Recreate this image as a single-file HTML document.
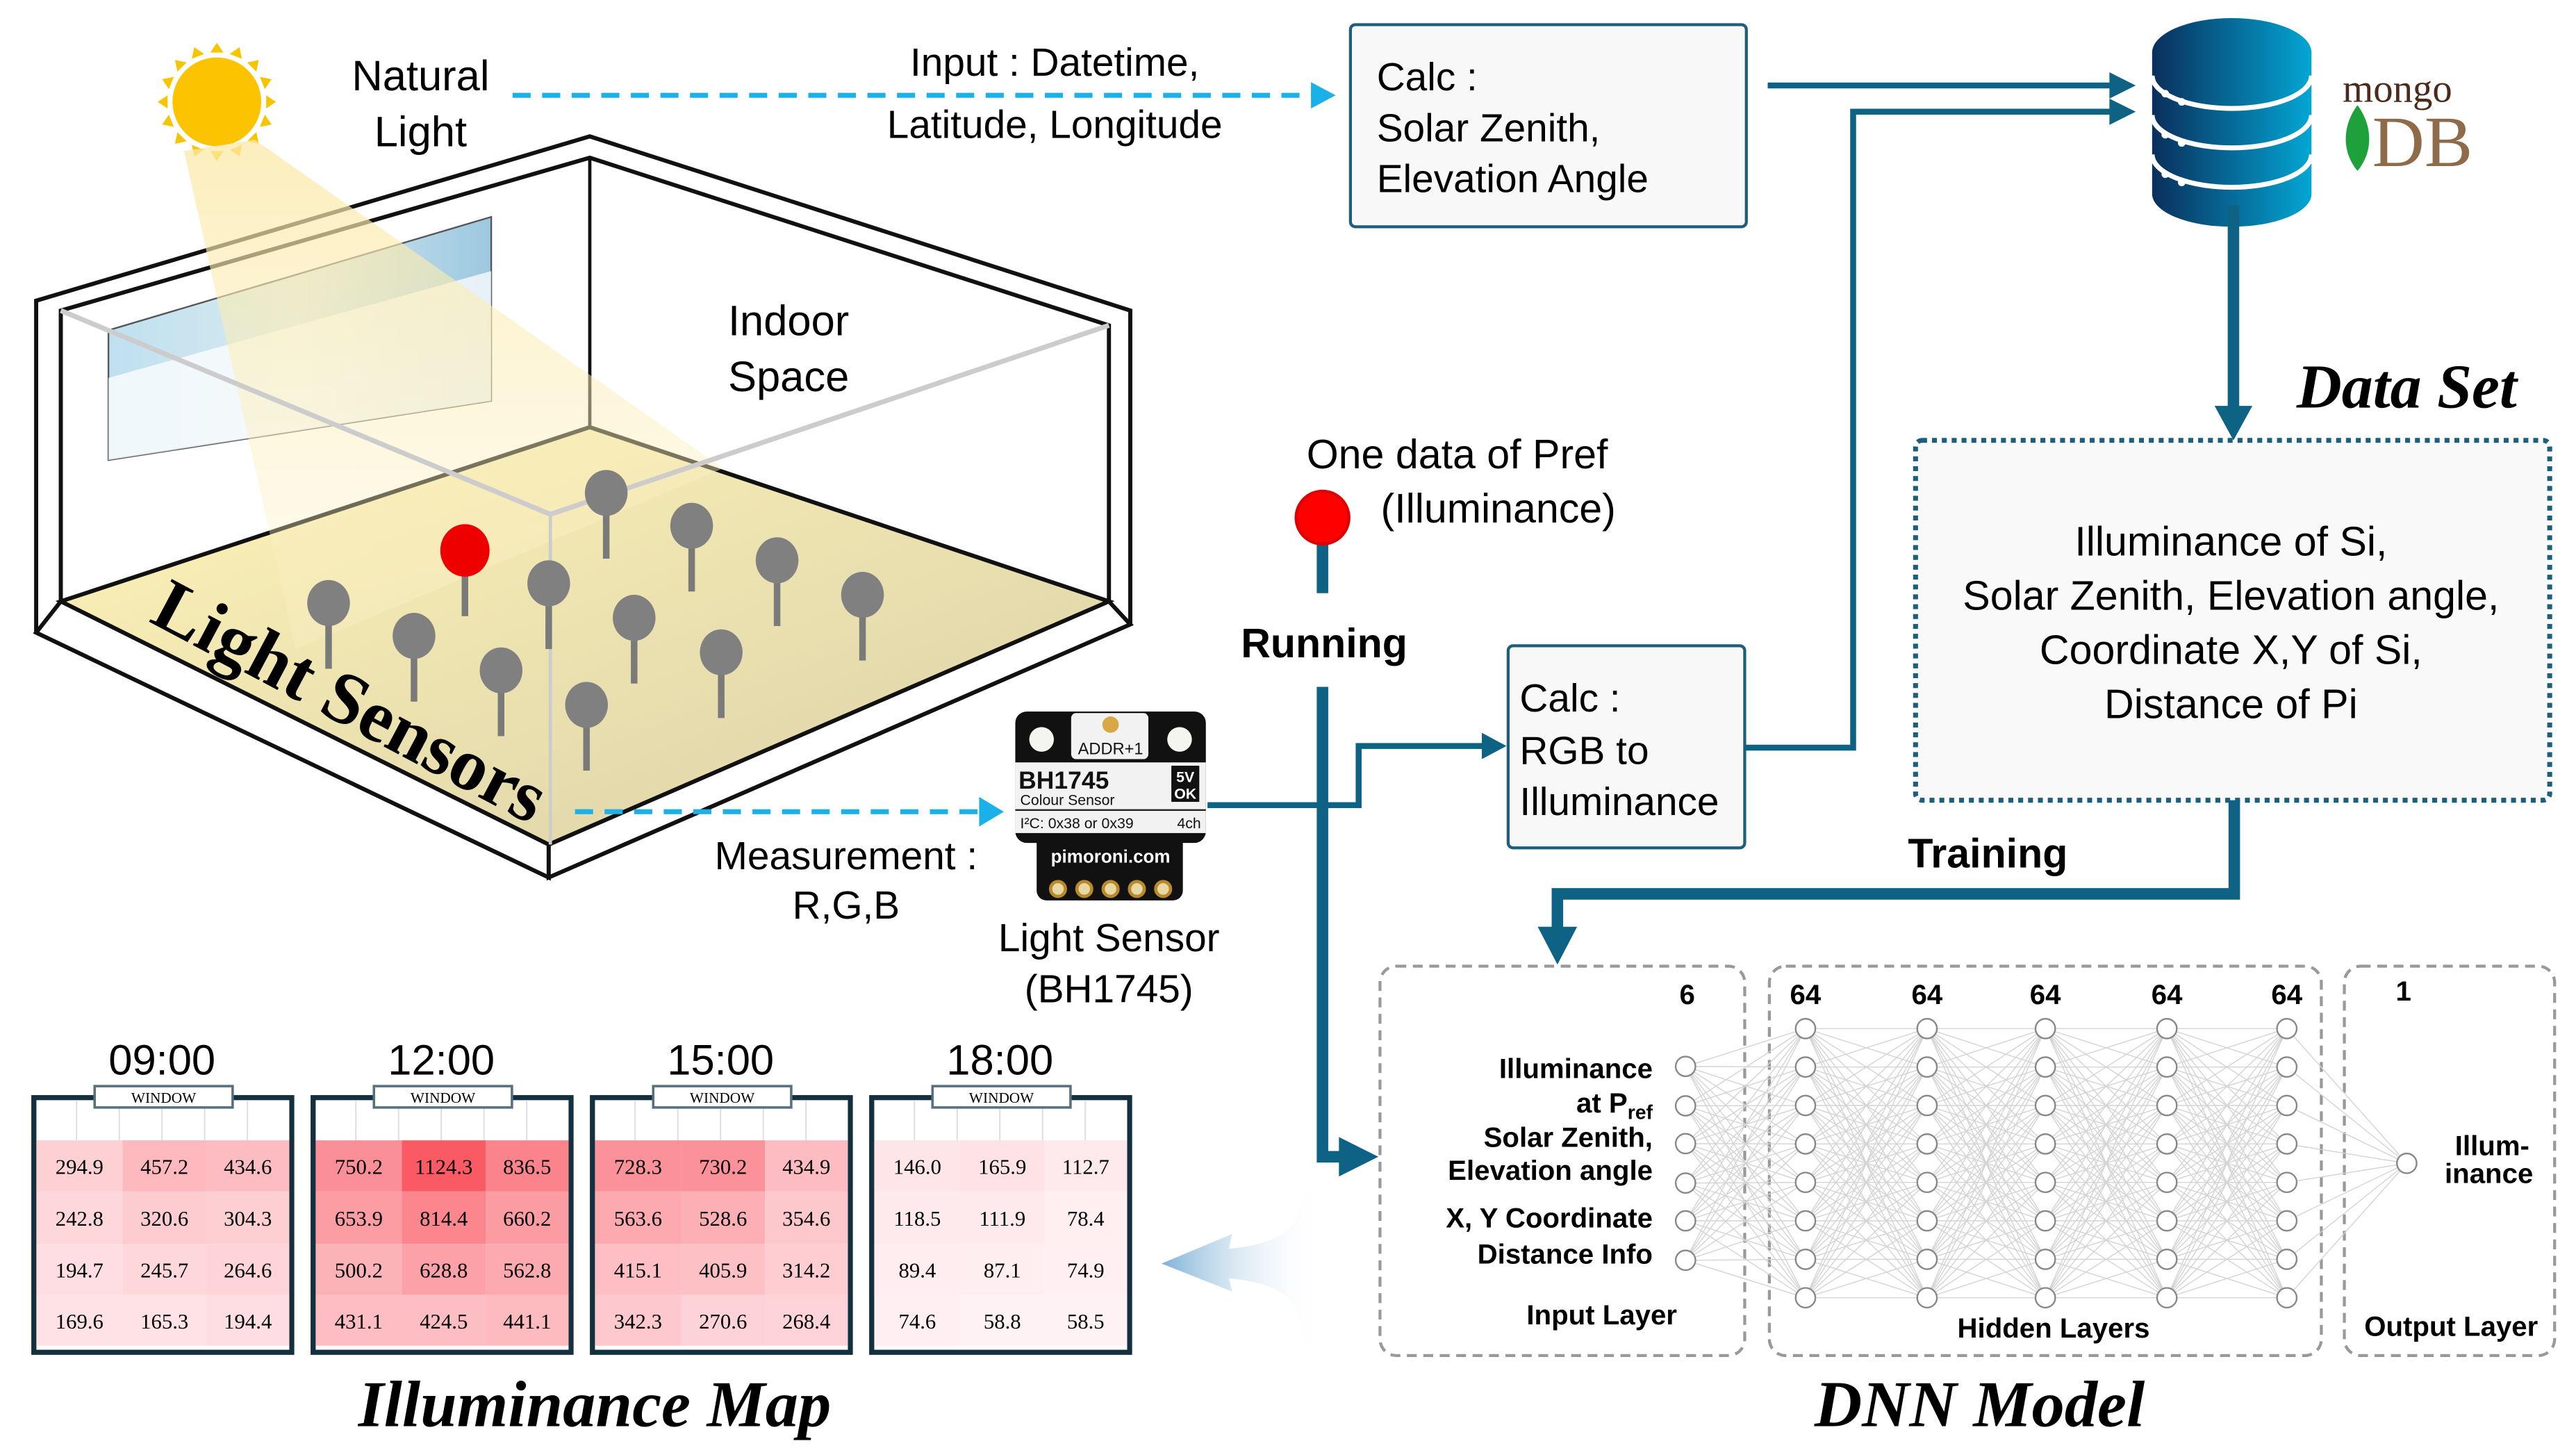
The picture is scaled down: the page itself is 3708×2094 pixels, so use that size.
<!DOCTYPE html>
<html><head><meta charset="utf-8"><style>
html,body{margin:0;padding:0;background:#fff;}
svg{display:block;}
text{font-family:"Liberation Sans","Noto Sans CJK KR",sans-serif;}
.s{font-family:"Liberation Serif","DejaVu Serif",serif;}
</style></head><body>
<svg id="sv" xmlns="http://www.w3.org/2000/svg" width="3708" height="2094" viewBox="0 0 1568 885.5">
<defs>
<linearGradient id="floor" x1="0" y1="0" x2="1" y2="1">
<stop offset="0" stop-color="#fff4b8"/><stop offset="1" stop-color="#d9d0a8"/></linearGradient>
<linearGradient id="beam" x1="0" y1="0" x2="0" y2="1">
<stop offset="0" stop-color="#fbe9a8" stop-opacity="0.9"/><stop offset="1" stop-color="#fdf3cc" stop-opacity="0.3"/></linearGradient>
<linearGradient id="sky" x1="0" y1="0" x2="1" y2="0">
<stop offset="0" stop-color="#bfe0f0"/><stop offset="0.5" stop-color="#d8eaee"/><stop offset="1" stop-color="#9cc8e0"/></linearGradient>
<linearGradient id="db" x1="0" y1="0" x2="1" y2="0">
<stop offset="0" stop-color="#0a2f5c"/><stop offset="1" stop-color="#03a6d4"/></linearGradient>
<linearGradient id="barrow" x1="0" y1="0" x2="1" y2="0">
<stop offset="0" stop-color="#7fb1d6"/><stop offset="1" stop-color="#ffffff" stop-opacity="0"/></linearGradient>
</defs>

<!-- sun -->
<g transform="translate(132,62)">
<g fill="#f7c500" id="rays"></g>
<circle r="27" fill="#fcc400"/>
</g>

<!-- room -->
<polygon points="22,183 359,83 688,189 688,380 334,534 22,385" fill="#fff" stroke="#111" stroke-width="2.5"/>
<polygon points="37,189 359,96 675,198 675,366 359,260 37,366" fill="#fff" stroke="#111" stroke-width="2.5"/>
<polygon points="37,366 359,260 675,366 334,514" fill="url(#floor)" stroke="#111" stroke-width="2.5"/>
<line x1="359" y1="96" x2="359" y2="260" stroke="#111" stroke-width="2"/>
<polygon points="37,366 334,514 334,534 22,385" fill="#fff" stroke="#111" stroke-width="2.5"/>
<polygon points="334,514 675,366 688,380 334,534" fill="#fff" stroke="#111" stroke-width="2.5"/>
<!-- window -->
<polygon points="66,201 299,132 299,244 66,280" fill="url(#sky)" stroke="#555" stroke-width="1"/>
<polygon points="66,230 299,165 299,244 66,280" fill="#fff" opacity="0.75"/>
<polygon points="112,92 155,85 440,285 180,395" fill="url(#beam)" opacity="0.85"/>
<!-- glass edges -->
<polyline points="37,189 335,313 675,198" fill="none" stroke="#ccc" stroke-width="3"/>
<line x1="335" y1="313" x2="335" y2="514" stroke="#ccc" stroke-width="2"/>

<!-- sensors -->
<g id="pins"></g>
<text class="s" x="0" y="0" font-size="45" font-weight="bold" transform="translate(90,378) rotate(28)">Light Sensors</text>

<text x="256" y="55" font-size="26" text-anchor="middle">Natural</text>
<text x="256" y="89" font-size="26" text-anchor="middle">Light</text>
<text x="480" y="204" font-size="26" text-anchor="middle">Indoor</text>
<text x="480" y="238" font-size="26" text-anchor="middle">Space</text>

<!-- top dashed input -->
<line x1="312" y1="58" x2="800" y2="58" stroke="#1ab0e8" stroke-width="3" stroke-dasharray="11,7"/>
<polygon points="798,50 813,58 798,66" fill="#1ab0e8"/>
<text x="642" y="46" font-size="24" text-anchor="middle">Input : Datetime,</text>
<text x="642" y="84" font-size="24" text-anchor="middle">Latitude, Longitude</text>

<!-- calc box 1 -->
<rect x="822" y="15" width="241" height="123" rx="3" fill="#f8f8f8" stroke="#1b5f7c" stroke-width="1.8"/>
<text x="838" y="55" font-size="24">Calc :</text>
<text x="838" y="86" font-size="24">Solar Zenith,</text>
<text x="838" y="117" font-size="24">Elevation Angle</text>

<!-- arrows to DB -->
<g stroke="#0e6283" stroke-width="3.6" fill="none">
<line x1="1076" y1="52" x2="1288" y2="52"/>
<polyline points="1062,455 1128,455 1128,68 1288,68"/>
<polyline points="735,490 827,490 827,454 905,454"/>
</g>
<g fill="#0e6283">
<polygon points="1284,44 1300,52 1284,60"/>
<polygon points="1284,60 1300,68 1284,76"/>
<polygon points="902,446 917,454 902,462"/>
</g>

<!-- DB -->
<g>
<path d="M1310,32 L1310,118 A48.5,20 0 0 0 1407,118 L1407,32 Z" fill="url(#db)"/>
<ellipse cx="1358.5" cy="32" rx="48.5" ry="21" fill="url(#db)"/>
<g fill="none" stroke="#fff" stroke-width="3">
<path d="M1310,46 A48.5,20 0 0 0 1407,46"/>
<path d="M1310,70 A48.5,20 0 0 0 1407,70"/>
<path d="M1310,94 A48.5,20 0 0 0 1407,94"/>
</g>
<g fill="#fff">
<circle cx="1318" cy="57" r="2.3"/><circle cx="1328" cy="62" r="2.3"/>
<circle cx="1318" cy="82" r="2.3"/><circle cx="1328" cy="87" r="2.3"/>
<circle cx="1318" cy="106" r="2.3"/><circle cx="1328" cy="111" r="2.3"/>
</g>
</g>
<text class="s" x="1426" y="62" font-size="24" fill="#4a2b1c">mongo</text>
<path d="M1435,64 C1426,76 1425,92 1435,104 C1445,92 1444,76 1435,64 Z" fill="#1ea03a"/>
<text class="s" x="1444" y="101" font-size="44" fill="#8f6b49">DB</text>

<!-- DB to dataset -->
<rect x="1356" y="125" width="7" height="124" fill="#0e6283"/>
<polygon points="1348,247 1371,247 1359.5,268" fill="#0e6283"/>
<text class="s" x="1465" y="248" font-size="38" font-weight="bold" font-style="italic" text-anchor="middle">Data Set</text>

<rect x="1166" y="268" width="386" height="219" rx="4" fill="#f9f9f9" stroke="#1b5f7c" stroke-width="3" stroke-dasharray="3,3"/>
<text x="1358" y="338" font-size="25" text-anchor="middle">Illuminance of Si,</text>
<text x="1358" y="371" font-size="25" text-anchor="middle">Solar Zenith, Elevation angle,</text>
<text x="1358" y="404" font-size="25" text-anchor="middle">Coordinate X,Y of Si,</text>
<text x="1358" y="437" font-size="25" text-anchor="middle">Distance of Pi</text>

<!-- training -->
<polyline points="1360,487 1360,544 948,544 948,566" fill="none" stroke="#0e6283" stroke-width="7"/>
<polygon points="936,564 960,564 948,587" fill="#0e6283"/>
<text x="1210" y="528" font-size="25" font-weight="bold" text-anchor="middle">Training</text>

<!-- Pref -->
<text x="887" y="285" font-size="25" text-anchor="middle">One data of Pref</text>
<text x="912" y="318" font-size="25" text-anchor="middle">(Illuminance)</text>
<rect x="801.5" y="320" width="7" height="41" fill="#0e6283"/>
<circle cx="805" cy="315" r="16" fill="#f00" stroke="#e00000" stroke-width="2"/>
<text x="806" y="400" font-size="25" font-weight="bold" text-anchor="middle">Running</text>
<polyline points="805,418 805,704 816,704" fill="none" stroke="#0e6283" stroke-width="7"/>
<polygon points="815,692 839,704 815,716" fill="#0e6283"/>

<!-- calc box 2 -->
<rect x="918" y="393" width="144" height="123" rx="3" fill="#f8f8f8" stroke="#1b5f7c" stroke-width="1.8"/>
<text x="925" y="433" font-size="24">Calc :</text>
<text x="925" y="465" font-size="24">RGB to</text>
<text x="925" y="496" font-size="24">Illuminance</text>

<!-- measurement dashed -->
<line x1="350" y1="494" x2="598" y2="494" stroke="#1ab0e8" stroke-width="3" stroke-dasharray="11,7"/>
<polygon points="596,485 611,494 596,503" fill="#1ab0e8"/>
<text x="515" y="529" font-size="24" text-anchor="middle">Measurement :</text>
<text x="515" y="559" font-size="24" text-anchor="middle">R,G,B</text>

<!-- board -->
<rect x="618" y="433" width="116" height="80" rx="7" fill="#111"/>
<rect x="631" y="500" width="89" height="48" rx="6" fill="#111"/>
<rect x="618" y="464" width="116" height="43" fill="#f2f2f2"/>
<line x1="618" y1="493" x2="734" y2="493" stroke="#222" stroke-width="1"/>
<rect x="652" y="434" width="47" height="28" rx="3" fill="#f2f2f2"/>
<circle cx="676" cy="441" r="5" fill="#d7a843"/>
<text x="676" y="459" font-size="10" text-anchor="middle" fill="#111">ADDR+1</text>
<circle cx="634" cy="450" r="7.5" fill="#f5f5f0"/>
<circle cx="718" cy="450" r="7.5" fill="#f5f5f0"/>
<text x="620" y="480" font-size="15" font-weight="bold" fill="#111">BH1745</text>
<text x="621" y="490" font-size="9" fill="#111">Colour Sensor</text>
<rect x="713" y="466" width="17" height="22" fill="#111"/>
<text x="721.5" y="476" font-size="9" font-weight="bold" fill="#fff" text-anchor="middle">5V</text>
<text x="721.5" y="486" font-size="9" font-weight="bold" fill="#fff" text-anchor="middle">OK</text>
<text x="621" y="504" font-size="9" fill="#111">I²C: 0x38 or 0x39</text>
<text x="731" y="504" font-size="9" fill="#111" text-anchor="end">4ch</text>
<text x="676" y="525" font-size="11" font-weight="bold" fill="#fff" text-anchor="middle">pimoroni.com</text>
<g fill="#e8d9a4" stroke="#b88a2a" stroke-width="2">
<circle cx="644" cy="541" r="4.5"/><circle cx="660" cy="541" r="4.5"/><circle cx="676" cy="541" r="4.5"/><circle cx="692" cy="541" r="4.5"/><circle cx="708" cy="541" r="4.5"/>
</g>
<text x="675" y="579" font-size="24" text-anchor="middle">Light Sensor</text>
<text x="675" y="610" font-size="24" text-anchor="middle">(BH1745)</text>

<!-- big faded arrow -->
<path d="M707,769 L750,751 L748,760 C770,758 785,752 790,740 C793,728 795,722 800,719 L805,719 L805,822 L800,822 C795,818 792,812 790,800 C786,786 770,780 748,778 L750,786 Z" fill="url(#barrow)"/>

<!-- DNN -->
<g fill="none" stroke="#999" stroke-width="1.8" stroke-dasharray="6,4">
<rect x="840" y="588" width="222" height="237" rx="10"/>
<rect x="1077" y="588" width="336" height="237" rx="10"/>
<rect x="1427" y="588" width="128" height="237" rx="10"/>
</g>
<g id="nn"></g>
<g font-size="17" font-weight="bold" text-anchor="middle">
<text x="1027" y="611">6</text>
<text x="1099" y="611">64</text><text x="1173" y="611">64</text><text x="1245" y="611">64</text><text x="1319" y="611">64</text><text x="1392" y="611">64</text>
<text x="1463" y="609">1</text>
</g>
<g font-size="17" font-weight="bold" text-anchor="end">
<text x="1006" y="656">Illuminance</text>
<text x="1006" y="677">at P<tspan font-size="12" dy="4">ref</tspan></text>
<text x="1006" y="698">Solar Zenith,</text>
<text x="1006" y="718">Elevation angle</text>
<text x="1006" y="747">X, Y Coordinate</text>
<text x="1006" y="769">Distance Info</text>
</g>
<g font-size="17" font-weight="bold" text-anchor="middle">
<text x="975" y="806">Input Layer</text>
<text x="1250" y="814">Hidden Layers</text>
<text x="1492" y="813">Output Layer</text>
<text x="1517" y="703">Illum-</text>
<text x="1515" y="720">inance</text>
</g>
<text class="s" x="1205" y="868" font-size="40" font-weight="bold" font-style="italic" text-anchor="middle">DNN Model</text>

<!-- maps -->
<g id="maps"></g>
<text class="s" x="362" y="868" font-size="40" font-weight="bold" font-style="italic" text-anchor="middle">Illuminance Map</text>
</svg>
<script>
var NS="http://www.w3.org/2000/svg";
function el(p,t,a,txt){var e=document.createElementNS(NS,t);for(var k in a)e.setAttribute(k,a[k]);if(txt!=null)e.textContent=txt;p.appendChild(e);return e;}
var r=document.getElementById('rays');
for(var i=0;i<16;i++){var a=i*Math.PI/8;var c=Math.cos(a),s=Math.sin(a);
var p=[[36*c,36*s],[30*c-4*s,30*s+4*c],[30*c+4*s,30*s-4*c]];
el(r,'polygon',{points:p.map(function(q){return q[0].toFixed(1)+','+q[1].toFixed(1)}).join(' ')});}
var pins=document.getElementById('pins');
var P=[[369,300],[421,320],[473,341],[525,362],[334,355],[386,376],[439,397],[200,367],[252,387],[305,408],[357,429]];
P.forEach(function(q){el(pins,'rect',{x:q[0]-2,y:q[1],width:4,height:40,fill:'#7a7a7a'});el(pins,'ellipse',{cx:q[0],cy:q[1],rx:13,ry:14,fill:'#808080'});});
el(pins,'rect',{x:281,y:335,width:4,height:40,fill:'#7a7a7a'});
el(pins,'ellipse',{cx:283,cy:335,rx:15,ry:16,fill:'#ee0000'});
var nn=document.getElementById('nn');
var L=[[1026,[649,673,696,720,743,767]]];
var hx=[1099,1173,1245,1319,1392],hy=[];for(var i=0;i<8;i++)hy.push(626+i*23.4);
hx.forEach(function(x){L.push([x,hy]);});L.push([1465,[708]]);
for(var l=0;l<L.length-1;l++){L[l][1].forEach(function(y1){L[l+1][1].forEach(function(y2){el(nn,'line',{x1:L[l][0],y1:y1,x2:L[l+1][0],y2:y2,stroke:'#d4d4d4','stroke-width':0.6});});});}
L.forEach(function(ly){ly[1].forEach(function(y){el(nn,'circle',{cx:ly[0],cy:y,r:6,fill:'#fff',stroke:'#888','stroke-width':1});});});
var maps=document.getElementById('maps');
var times=['09:00','12:00','15:00','18:00'];
var V=[[[294.9,457.2,434.6],[242.8,320.6,304.3],[194.7,245.7,264.6],[169.6,165.3,194.4]],
[[750.2,1124.3,836.5],[653.9,814.4,660.2],[500.2,628.8,562.8],[431.1,424.5,441.1]],
[[728.3,730.2,434.9],[563.6,528.6,354.6],[415.1,405.9,314.2],[342.3,270.6,268.4]],
[[146.0,165.9,112.7],[118.5,111.9,78.4],[89.4,87.1,74.9],[74.6,58.8,58.5]]];
var rows=[694,725,757,788,819],cols=[0,52.5,103.5,154];
for(var m=0;m<4;m++){var x0=20.6+m*170;
el(maps,'text',{x:x0+78,y:654,'font-size':26,'text-anchor':'middle'},times[m]);
el(maps,'rect',{x:x0,y:668,width:157,height:155,fill:'#fff',stroke:'#14303f','stroke-width':3});
for(var k=1;k<6;k++)el(maps,'line',{x1:x0+k*26,y1:670,x2:x0+k*26,y2:694,stroke:'#ddd','stroke-width':0.8});
for(var i=0;i<4;i++)for(var j=0;j<3;j++){var v=V[m][i][j];var t=Math.min(1,v/1124.3);
var R=255-Math.round(t*6),G=Math.round(250-t*160),B=Math.round(252-t*152);
el(maps,'rect',{x:x0+1.5+cols[j],y:rows[i],width:cols[j+1]-cols[j],height:rows[i+1]-rows[i],fill:'rgb('+R+','+G+','+B+')'});
el(maps,'text',{x:x0+1.5+(cols[j]+cols[j+1])/2,y:(rows[i]+rows[i+1])/2+5,'font-size':13,'text-anchor':'middle','class':'s'},v.toFixed(1));}
el(maps,'rect',{x:x0,y:668,width:157,height:155,fill:'none',stroke:'#14303f','stroke-width':3});
el(maps,'rect',{x:x0+37,y:661,width:84,height:13,fill:'#fff',stroke:'#56707e','stroke-width':1.5});
el(maps,'text',{x:x0+79,y:671,'font-size':9,'text-anchor':'middle','class':'s'},'WINDOW');}
</script>
</body></html>
